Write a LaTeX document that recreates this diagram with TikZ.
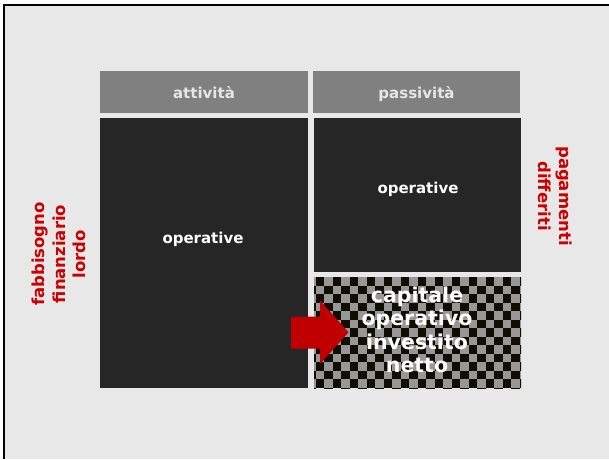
\documentclass[tikz,border=0pt]{standalone}
\usepackage{fontspec}
\setmainfont{DejaVu Sans}
\definecolor{bgc}{HTML}{E8E8E8}
\definecolor{hdr}{HTML}{808080}
\definecolor{hdrtxt}{HTML}{E6E6E6}
\definecolor{darkbox}{HTML}{262626}
\definecolor{chkdark}{HTML}{100E00}
\definecolor{chkgray}{HTML}{979797}
\definecolor{redtxt}{HTML}{CC0000}
\definecolor{arrowred}{HTML}{C00000}
\tikzset{
  hdrlabel/.style={text=hdrtxt, font=\bfseries\fontsize{15}{18}\selectfont, inner sep=0pt},
  boxlabel/.style={text=white, font=\bfseries\fontsize{15}{18}\selectfont, inner sep=0pt},
  biglabel/.style={text=white, font=\bfseries\fontsize{20.5}{23.5}\selectfont, inner sep=0pt, align=center},
  redlabel/.style={text=redtxt, font=\bfseries\fontsize{16.5}{20.5}\selectfont, inner sep=0pt, align=center},
}
\begin{document}
\begin{tikzpicture}[x=1pt,y=-1pt]
\useasboundingbox (0,0) rectangle (609,459);
\fill[white] (0,0) rectangle (609,459);
\fill[bgc] (4,5) rectangle (609,459);
\draw[black, line width=2pt] (4,459) -- (4,5) -- (609,5);
% headers
\fill[hdr] (100,71) rectangle (308,113);
\fill[hdr] (313,71) rectangle (520,113);
\node[hdrlabel, anchor=base] (hatt) at (204,98.3) {attività};
\node[hdrlabel, anchor=base] (hpas) at (416.5,98.3) {passività};
% dark boxes
\fill[darkbox] (100,118) rectangle (308,388);
\fill[darkbox] (314,118) rectangle (521,272);
\node[boxlabel, anchor=base] (opl) at (203,243) {operative};
\node[boxlabel, anchor=base] (opr) at (418,193.5) {operative};
% checker box
\begin{scope}
\clip (314,277) rectangle (521,388);
\fill[chkgray] (314,277) rectangle (521,388);
\foreach \i in {-1,...,24}{
  \foreach \j in {0,...,13}{
    \pgfmathtruncatemacro\p{mod(\i+\j+2,2)}
    \ifnum\p=0
      \fill[chkdark] ({315.7+8.5*\i},{277+8.5*\j}) rectangle +(8.5,8.5);
    \fi
  }
}
\end{scope}
\node[biglabel, anchor=north] (cap) at (417,286.5) {capitale\\operativo\\investito\\netto};
% arrow
\fill[arrowred] (291,316.5) -- (320,316.5) -- (320,300.5) -- (348.5,332.3) -- (320,364) -- (320,348.5) -- (291,348.5) -- cycle;
% side labels
\node[redlabel, rotate=90] (fab) at (59,254) {fabbisogno\\finanziario\\lordo};
\node[redlabel, rotate=-90] (pag) at (555,196) {pagamenti\\differiti};
\end{tikzpicture}
\end{document}
